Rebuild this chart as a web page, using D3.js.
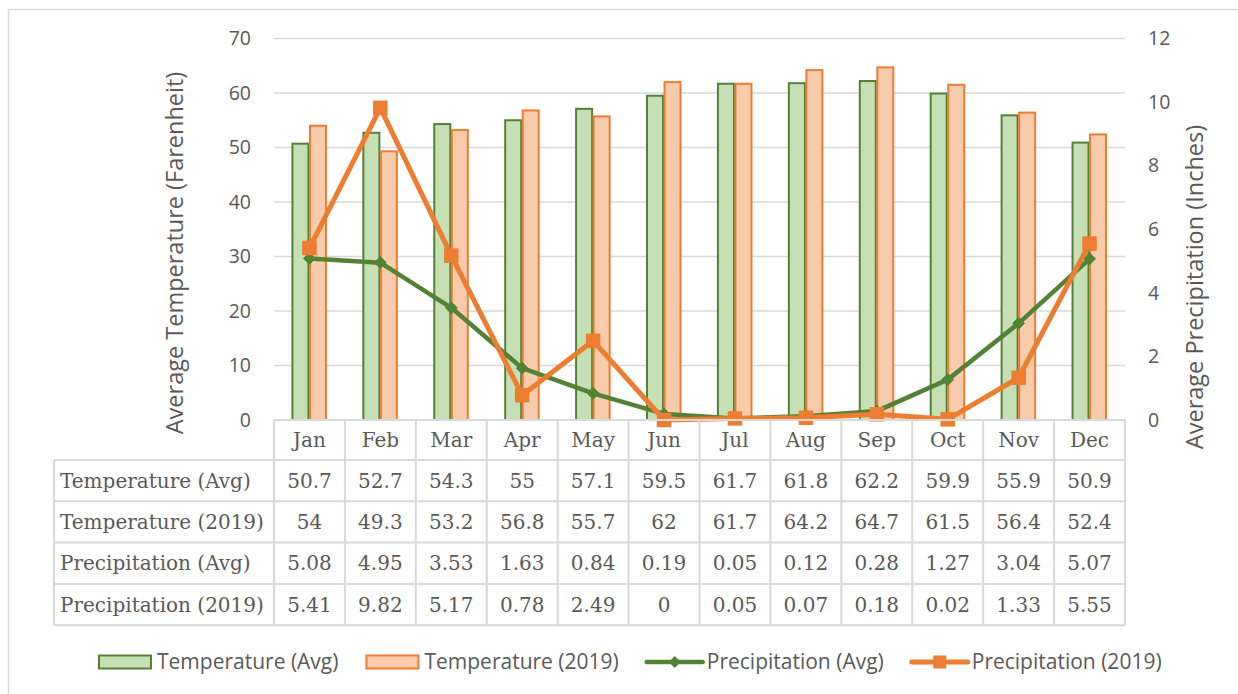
<!DOCTYPE html>
<html><head><meta charset="utf-8">
<script src="https://cdn.jsdelivr.net/npm/d3@7"></script>
<style>body{margin:0;background:#fff}svg{display:block}</style>
</head><body><svg id="c" width="1238" height="694"></svg>
<script>
const months = ["Jan","Feb","Mar","Apr","May","Jun","Jul","Aug","Sep","Oct","Nov","Dec"];
const tempAvg = [50.7,52.7,54.3,55,57.1,59.5,61.7,61.8,62.2,59.9,55.9,50.9];
const temp2019 = [54,49.3,53.2,56.8,55.7,62,61.7,64.2,64.7,61.5,56.4,52.4];
const precAvg = [5.08,4.95,3.53,1.63,0.84,0.19,0.05,0.12,0.28,1.27,3.04,5.07];
const prec2019 = [5.41,9.82,5.17,0.78,2.49,0,0.05,0.07,0.18,0.02,1.33,5.55];
const leftTicks = [0,10,20,30,40,50,60,70];
const rightTicks = [0,2,4,6,8,10,12];
const seriesNames = ["Temperature (Avg)","Temperature (2019)","Precipitation (Avg)","Precipitation (2019)"];

const GREEN="#548235", GREEN_F="#C5E0B4", ORANGE="#ED7D31", ORANGE_F="#F8CBAD", GRID="#D9D9D9", TXT="#595959";
const SANS="'Open Sans', sans-serif", SERIF="'DejaVu Serif', serif";

const svg = d3.select("#c");
svg.append("rect").attr("x",8.5).attr("y",9.5).attr("width",1240).attr("height",700).attr("fill","none").attr("stroke",GRID).attr("stroke-width",1.5);

const L=274, R=1125, T=38.5, B=420;
const x = d3.scaleBand().domain(months).range([L,R]).paddingInner(0).paddingOuter(0);
const yL = d3.scaleLinear().domain([0,70]).range([B,T]);
const yR = d3.scaleLinear().domain([0,12]).range([B,T]);

svg.append("g").selectAll("line").data(leftTicks.filter(d=>d>0)).join("line")
  .attr("x1",L).attr("x2",R).attr("y1",d=>yL(d)).attr("y2",d=>yL(d))
  .attr("stroke",GRID).attr("stroke-width",1.5);

const ax = svg.append("g").attr("transform",`translate(${L},0)`).call(d3.axisLeft(yL).tickValues(leftTicks).tickSize(0).tickPadding(23));
ax.select(".domain").remove();
ax.selectAll("text").attr("font-family",SANS).attr("font-size",19.5).attr("fill",TXT);
const axr = svg.append("g").attr("transform",`translate(${R},0)`).call(d3.axisRight(yR).tickValues(rightTicks).tickSize(0).tickPadding(23));
axr.select(".domain").remove();
axr.selectAll("text").attr("font-family",SANS).attr("font-size",19.5).attr("fill",TXT);

svg.append("text").attr("transform",`translate(175,253) rotate(-90)`).attr("text-anchor","middle").attr("dy","0.35em")
  .attr("font-family",SANS).attr("font-size",23.5).attr("fill",TXT).text("Average Temperature (Farenheit)");
svg.append("text").attr("transform",`translate(1195,287) rotate(-90)`).attr("text-anchor","middle").attr("dy","0.35em")
  .attr("font-family",SANS).attr("font-size",23.5).attr("fill",TXT).text("Average Precipitation (Inches)");

const bw = x.bandwidth()*0.24;
const cx = m => x(m)+x.bandwidth()/2;
svg.append("g").selectAll("rect").data(months).join("rect")
  .attr("x",m=>cx(m)-bw).attr("width",bw-1).attr("y",(m,i)=>yL(tempAvg[i])).attr("height",(m,i)=>B-yL(tempAvg[i]))
  .attr("fill",GREEN_F).attr("stroke",GREEN).attr("stroke-width",2);
svg.append("g").selectAll("rect").data(months).join("rect")
  .attr("x",m=>cx(m)+0.5).attr("width",bw-1).attr("y",(m,i)=>yL(temp2019[i])).attr("height",(m,i)=>B-yL(temp2019[i]))
  .attr("fill",ORANGE_F).attr("stroke",ORANGE).attr("stroke-width",2);

const lineGen = d3.line().x((d,i)=>cx(months[i])).y(d=>yR(d));
svg.append("path").datum(precAvg).attr("d",lineGen).attr("fill","none").attr("stroke",GREEN).attr("stroke-width",4.5).attr("stroke-linejoin","round").attr("stroke-linecap","round");
svg.append("g").selectAll("path").data(precAvg).join("path")
  .attr("d",d3.symbol(d3.symbolDiamond2,90)).attr("transform",(d,i)=>`translate(${cx(months[i])},${yR(d)})`)
  .attr("fill",GREEN).attr("stroke",GREEN).attr("stroke-width",1);
svg.append("path").datum(prec2019).attr("d",lineGen).attr("fill","none").attr("stroke",ORANGE).attr("stroke-width",5).attr("stroke-linejoin","round").attr("stroke-linecap","round");
svg.append("g").selectAll("rect").data(prec2019).join("rect")
  .attr("x",(d,i)=>cx(months[i])-6.5).attr("y",d=>yR(d)-6.5).attr("width",13).attr("height",13)
  .attr("fill",ORANGE).attr("stroke",ORANGE).attr("stroke-width",1.5);

const rowH = 41.3, hdrB = 460, labL = 54;
const rows = [tempAvg,temp2019,precAvg,prec2019];
const tg = svg.append("g");
tg.append("line").attr("x1",L).attr("x2",R).attr("y1",B).attr("y2",B).attr("stroke",GRID).attr("stroke-width",2);
for(let r=0;r<=4;r++){
  const yy = hdrB + r*rowH;
  tg.append("line").attr("x1",labL).attr("x2",R).attr("y1",yy).attr("y2",yy).attr("stroke",GRID).attr("stroke-width",2);
}
const yEnd = hdrB+4*rowH;
tg.append("line").attr("x1",labL).attr("x2",labL).attr("y1",hdrB).attr("y2",yEnd).attr("stroke",GRID).attr("stroke-width",2);
tg.selectAll("line.v").data(months.concat(["__end"])).join("line").attr("class","v")
  .attr("x1",m=>m==="__end"?R:x(m)).attr("x2",m=>m==="__end"?R:x(m)).attr("y1",B).attr("y2",yEnd)
  .attr("stroke",GRID).attr("stroke-width",2);
tg.selectAll("text.h").data(months).join("text").attr("class","h")
  .attr("x",cx).attr("y",(B+hdrB)/2).attr("dy","0.35em").attr("text-anchor","middle")
  .attr("font-family",SERIF).attr("font-size",20).attr("fill",TXT).text(d=>d);
rows.forEach((vals,r)=>{
  const ym = hdrB + r*rowH + rowH/2;
  tg.append("text").attr("x",60).attr("y",ym).attr("dy","0.35em").attr("font-family",SERIF).attr("font-size",20).attr("fill",TXT).text(seriesNames[r]);
  tg.selectAll(null).data(vals).join("text").attr("x",(d,i)=>cx(months[i])).attr("y",ym).attr("dy","0.35em").attr("text-anchor","middle")
    .attr("font-family",SERIF).attr("font-size",20).attr("fill",TXT).text(d=>String(d));
});

const lg = svg.append("g");
const ly = 662;
let lx = 99;
seriesNames.forEach((name,i)=>{
  if(i<2){
    lg.append("rect").attr("x",lx).attr("y",ly-6.5).attr("width",52).attr("height",13)
      .attr("fill",i===0?GREEN_F:ORANGE_F).attr("stroke",i===0?GREEN:ORANGE).attr("stroke-width",2);
    lx += 58;
  } else {
    const col = i===2?GREEN:ORANGE;
    lg.append("line").attr("x1",lx).attr("x2",lx+56).attr("y1",ly).attr("y2",ly).attr("stroke",col).attr("stroke-width",i===2?4.5:5).attr("stroke-linecap","round");
    if(i===2){
      lg.append("path").attr("d",d3.symbol(d3.symbolDiamond2,90)).attr("transform",`translate(${lx+28},${ly})`).attr("fill",col);
    } else {
      lg.append("rect").attr("x",lx+28-6.5).attr("y",ly-6.5).attr("width",13).attr("height",13).attr("fill",col);
    }
    lx += 60;
  }
  const t = lg.append("text").attr("x",lx).attr("y",ly).attr("dy","0.35em").attr("font-family",SANS).attr("font-size",21).attr("fill",TXT).text(name);
  lx += t.node().getComputedTextLength() + 28;
});
</script></body></html>
